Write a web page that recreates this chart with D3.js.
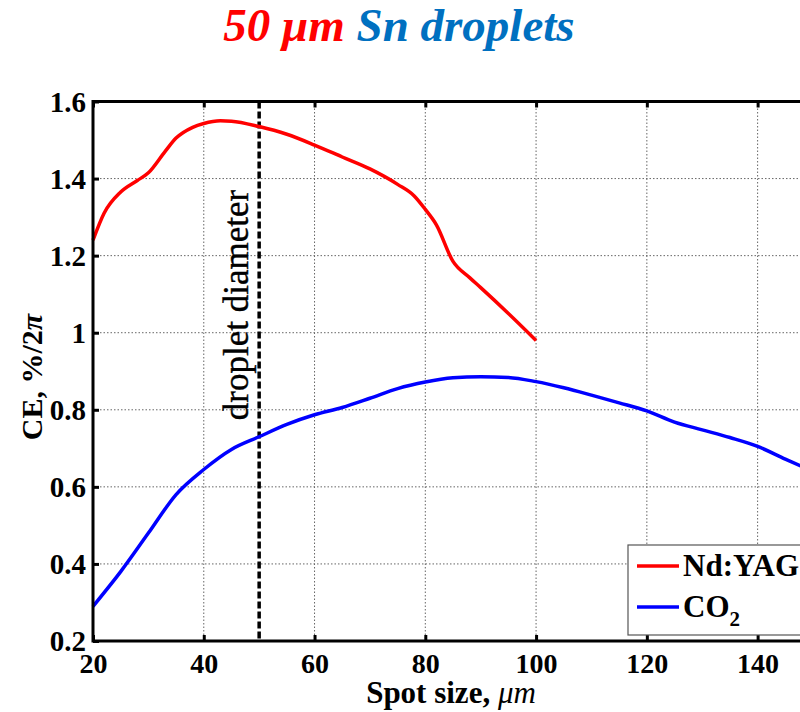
<!DOCTYPE html>
<html>
<head>
<meta charset="utf-8">
<script src="https://cdn.jsdelivr.net/npm/d3@7"></script>
<style>
html,body{margin:0;padding:0;background:#fff;}
svg{display:block;}
svg text{font-family:"Liberation Serif","Times New Roman",serif;}
</style>
</head>
<body>
<svg id="chart" width="800" height="712"></svg>
<script>
// ---- data ----
const xTicks = [20, 40, 60, 80, 100, 120, 140];
const yTicks = [0.2, 0.4, 0.6, 0.8, 1.0, 1.2, 1.4, 1.6];
const yTickLabels = ["0.2", "0.4", "0.6", "0.8", "1", "1.2", "1.4", "1.6"];
const ndyagX = [20, 22, 25, 28, 30, 33, 35, 38, 40, 43, 45, 50, 55, 60, 65, 70, 75, 78, 80, 82, 85, 88, 90, 95, 100];
const ndyagY = [1.24, 1.31, 1.365, 1.395, 1.415, 1.47, 1.505, 1.533, 1.543, 1.55, 1.549, 1.535, 1.515, 1.487, 1.456, 1.425, 1.385, 1.355, 1.32, 1.28, 1.185, 1.143, 1.117, 1.05, 0.98];
const co2X = [20, 25, 30, 35, 40, 45, 50, 55, 60, 65, 70, 75, 80, 85, 90, 95, 100, 105, 110, 115, 120, 125, 130, 135, 140, 145, 150];
const co2Y = [0.29, 0.38, 0.48, 0.58, 0.645, 0.697, 0.73, 0.762, 0.787, 0.806, 0.83, 0.855, 0.872, 0.883, 0.886, 0.884, 0.873, 0.857, 0.838, 0.818, 0.797, 0.768, 0.748, 0.728, 0.705, 0.672, 0.64];
const seriesNames = ["Nd:YAG", "CO2"];
const seriesColors = ["#ff0000", "#0000ff"];
const dropletDiameter = 50;

// ---- layout ----
const FF = "Liberation Serif, Times New Roman, serif";
const svg = d3.select("#chart");
const L = 93, R = 813, T = 101.5, B = 641;
const x = d3.scaleLinear().domain([20, 150]).range([L, R]);
const y = d3.scaleLinear().domain([0.2, 1.6]).range([B, T]);

// title
const title = svg.append("text").attr("x", 399).attr("y", 41).attr("text-anchor", "middle")
  .attr("font-family", FF).attr("font-size", 47).attr("font-weight", "bold").attr("font-style", "italic");
title.append("tspan").attr("fill", "#ff0000").text("50 μm ");
title.append("tspan").attr("fill", "#0070c0").text("Sn droplets");

// grid
const g = svg.append("g");
g.selectAll("line.gx").data(xTicks.slice(1)).join("line")
  .attr("x1", d => x(d)).attr("x2", d => x(d)).attr("y1", T).attr("y2", B)
  .attr("stroke", "#666").attr("stroke-width", 1).attr("stroke-dasharray", "1.5,2");
g.selectAll("line.gy").data(yTicks.slice(1, -1)).join("line")
  .attr("x1", L).attr("x2", R).attr("y1", d => y(d)).attr("y2", d => y(d))
  .attr("stroke", "#666").attr("stroke-width", 1).attr("stroke-dasharray", "1.5,2");

// droplet diameter line
svg.append("line").attr("x1", x(dropletDiameter)).attr("x2", x(dropletDiameter))
  .attr("y1", T).attr("y2", B).attr("stroke", "#000").attr("stroke-width", 3.5)
  .attr("stroke-dasharray", "7,3");
svg.append("text").attr("transform", `translate(${x(dropletDiameter) - 11},${305}) rotate(-90)`)
  .attr("text-anchor", "middle").attr("font-family", FF).attr("font-size", 35).attr("fill", "#000")
  .attr("stroke", "#000").attr("stroke-width", 0.4)
  .text("droplet diameter");

// curves
const line = d3.line().x(d => x(d[0])).y(d => y(d[1])).curve(d3.curveMonotoneX);
const ndData = ndyagX.map((v, i) => [v, ndyagY[i]]);
const coData = co2X.map((v, i) => [v, co2Y[i]]);
svg.append("path").datum(ndData).attr("d", line).attr("fill", "none")
  .attr("stroke", seriesColors[0]).attr("stroke-width", 3.5);
svg.append("path").datum(coData).attr("d", line).attr("fill", "none")
  .attr("stroke", seriesColors[1]).attr("stroke-width", 3.5);

// axes frame
svg.append("rect").attr("x", L).attr("y", T).attr("width", R - L).attr("height", B - T)
  .attr("fill", "none").attr("stroke", "#000").attr("stroke-width", 3);

// axes
const xAxis = d3.axisBottom(x).tickValues(xTicks).tickSize(-6).tickPadding(12).tickFormat(d3.format("d"));
const xg = svg.append("g").attr("transform", `translate(0,${B})`).call(xAxis);
const xAxisTop = d3.axisTop(x).tickValues(xTicks).tickSize(-6).tickFormat("");
const xgt = svg.append("g").attr("transform", `translate(0,${T})`).call(xAxisTop);
const yAxis = d3.axisLeft(y).tickValues(yTicks).tickSize(-6).tickPadding(7)
  .tickFormat((d, i) => yTickLabels[i]);
const yg = svg.append("g").attr("transform", `translate(${L},0)`).call(yAxis);
[xg, xgt, yg].forEach(a => {
  a.attr("font-family", FF);
  a.select(".domain").remove();
  a.selectAll(".tick line").attr("stroke", "#000").attr("stroke-width", 3);
  a.selectAll(".tick text").attr("fill", "#000").attr("font-size", 29).attr("font-weight", "bold")
    .attr("font-family", FF);
});
xg.selectAll(".tick text").attr("dy", "0.71em").attr("font-size", 28);
yg.selectAll(".tick text").attr("dy", "0.34em");

// axis labels
const xl = svg.append("text").attr("x", 451).attr("y", 703).attr("text-anchor", "middle")
  .attr("font-family", FF).attr("font-size", 31).attr("font-weight", "bold");
xl.append("tspan").text("Spot size, ");
xl.append("tspan").attr("font-style", "italic").attr("font-weight", "normal").text("μm");

const yl = svg.append("text").attr("transform", "translate(42,377) rotate(-90)")
  .attr("text-anchor", "middle").attr("font-family", FF).attr("font-size", 30).attr("font-weight", "bold");
yl.append("tspan").text("CE, %/2");
yl.append("tspan").attr("font-style", "italic").text("π");

// legend
const lg = svg.append("g");
lg.append("rect").attr("x", 628).attr("y", 545).attr("width", 190).attr("height", 90)
  .attr("fill", "#fff").attr("stroke", "#555").attr("stroke-width", 1.2);
const ly = [566, 607];
seriesNames.forEach((n, i) => {
  lg.append("line").attr("x1", 637).attr("x2", 679).attr("y1", ly[i]).attr("y2", ly[i])
    .attr("stroke", seriesColors[i]).attr("stroke-width", 3.5);
  const t = lg.append("text").attr("x", 683).attr("y", ly[i] + 10).attr("font-size", 31)
    .attr("font-family", FF).attr("font-weight", "bold").attr("fill", "#000");
  if (n === "CO2") {
    t.append("tspan").text("CO");
    t.append("tspan").attr("font-size", 21).attr("dy", 9).text("2");
  } else {
    t.text(n);
  }
});
</script>
</body>
</html>
